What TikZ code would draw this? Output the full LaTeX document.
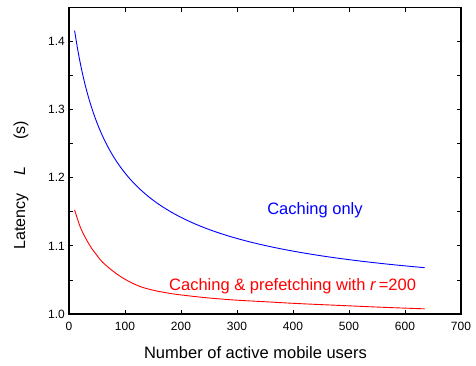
\documentclass[tikz,border=0pt]{standalone}
\usepackage{fontspec}
\setmainfont{Liberation Sans}
\definecolor{cblue}{RGB}{0,0,255}
\definecolor{cred}{RGB}{255,0,0}
\begin{document}
\begin{tikzpicture}[x=1pt,y=1pt,
  ticklab/.style={font=\fontsize{12}{14}\selectfont, inner sep=0pt},
  axlab/.style={font=\fontsize{16.5}{19}\selectfont, inner sep=0pt},
  ylab/.style={font=\fontsize{16}{19}\selectfont, inner sep=0pt},
  curve/.style={line width=0.9pt, line join=round},
  frame/.style={line width=1.2pt},
  tick/.style={line width=0.8pt}]
\useasboundingbox (0,0) rectangle (476,366);
\begin{scope}[x=0.56pt, y=681pt, shift={(69pt,-629pt)}]
  % frame
  \draw[frame] (0,1) rectangle (700,1.45);
  \draw[line width=1.8pt] (0,1.45) -- (0,1) -- (700,1);
  % x ticks and labels
  \foreach \t in {0,100,...,700} {
    \draw[tick] (\t,1) -- ++(0,4pt);
    \draw[tick] (\t,1.45) -- ++(0,-4pt);
    \node[ticklab] (xt\t) at ([yshift=-12.7pt]\t,1) {\t};
  }
  % y ticks
  \foreach \i in {1,...,8} {
    \pgfmathsetmacro\v{1+0.05*\i}
    \draw[tick] (0,\v) -- ++(4pt,0);
    \draw[tick] (700,\v) -- ++(-4pt,0);
  }
  \foreach \i/\lab in {0/1.0,1/1.1,2/1.2,3/1.3,4/1.4} {
    \pgfmathsetmacro\v{1+0.1*\i}
    \node[ticklab, anchor=east] (yt\i) at ([xshift=-4pt]0,\v) {\lab};
  }
  % curves
  \draw[curve, cblue] plot[domain=10:635, samples=120, smooth]
    (\x, {1+7.45/((\x+45)^0.72)});
  \draw[curve, cred] plot[smooth, tension=0.6] coordinates {
    (10,1.153) (20,1.128) (30,1.111) (40,1.097) (50,1.086) (60,1.076)
    (80,1.062) (100,1.051) (125,1.041) (150,1.035) (175,1.031) (200,1.028)
    (250,1.0235) (300,1.0203) (350,1.018) (400,1.0157) (450,1.0138)
    (500,1.012) (550,1.0102) (600,1.0086) (635,1.0076)};
\end{scope}
% axis labels
\node[axlab] (xlabel) at (255.5,13) {Number of active mobile users};
\node[ylab, rotate=90] (ylabel) at (21,181) {Latency\hspace{18pt}\textit{L}\hspace{27pt}(s)};
% curve labels
\node[axlab, text=cblue] (lblue) at (315,155.3) {Caching only};
\node[axlab, text=cred, anchor=west] (lred) at (169,79.3) {Caching \& prefetching with \textit{r}\,=200};
\end{tikzpicture}
\end{document}
